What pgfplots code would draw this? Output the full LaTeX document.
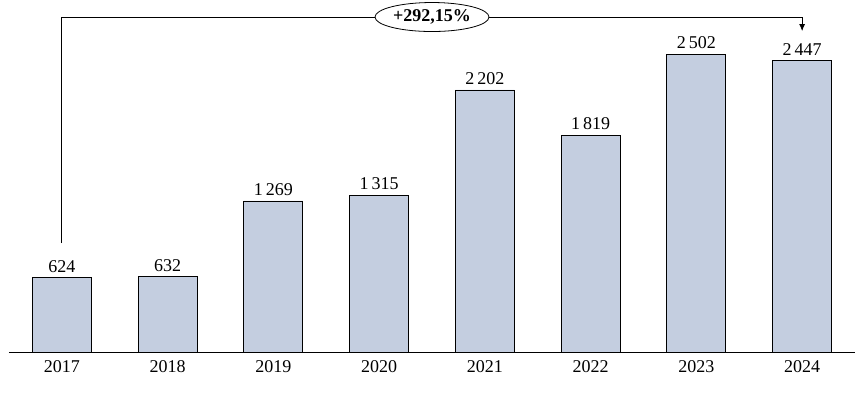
\documentclass[border=0pt]{standalone}
\usepackage{pgfplots}
\pgfplotsset{compat=1.18}
\usepackage{fontspec}
\setmainfont{Liberation Serif}
\usetikzlibrary{shapes.geometric,arrows.meta}
\definecolor{barfill}{HTML}{C4CEE0}
\begin{document}
\fontsize{18}{21}\selectfont
\begin{tikzpicture}
\useasboundingbox (0,0) rectangle (864pt,392pt);
\begin{axis}[
  at={(9pt,40pt)}, anchor=south west,
  scale only axis, width=846pt, height=352pt,
  xmin=-0.5, xmax=7.5, ymin=0, ymax=2958,
  axis x line=bottom, axis y line=none,
  axis line style={-, line width=0.8pt},
  xtick={0,...,7},
  xticklabels={2017,2018,2019,2020,2021,2022,2023,2024},
  major tick length=0pt,
  xticklabel style={font=\fontsize{18}{21}\selectfont, yshift=-2pt},
  ybar, bar width=59pt,
  nodes near coords,
  every node near coord/.append style={font=\fontsize{18}{21}\selectfont, yshift=-1pt},
  /pgf/number format/assume math mode=true,
  /pgf/number format/1000 sep={\,},
  clip=false,
]
\addplot[draw=black, line width=0.8pt, fill=barfill] coordinates {
(0,624) (1,632) (2,1269) (3,1315) (4,2202) (5,1819) (6,2502) (7,2447)};
\draw[line width=0.8pt] (axis cs:0,916) -- (axis cs:0,2815) -- (axis cs:7,2815);
\draw[line width=0.8pt, -{Latex[length=7pt,width=6pt]}] (axis cs:7,2815) -- (axis cs:7,2697);
\node[ellipse, draw, fill=white, line width=0.8pt, minimum width=114pt, minimum height=29pt, inner sep=1pt, font=\fontsize{18}{21}\selectfont\bfseries] at (axis cs:3.5,2815) {+292,15\%};
\end{axis}
\end{tikzpicture}
\end{document}
